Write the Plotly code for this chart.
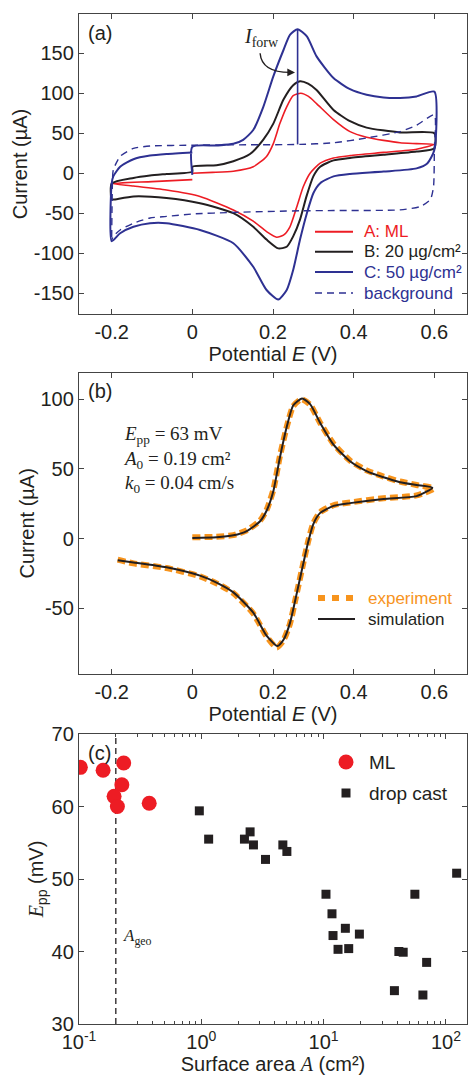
import plotly.graph_objects as go

# ---------------- Panel (a) data: cyclic voltammograms ----------------
a_red_x = [0.0, 0.05, 0.1017, 0.151, 0.184, 0.2008, 0.217, 0.234, 0.250, 0.269, 0.288, 0.308, 0.350, 0.391, 0.432, 0.474, 0.515, 0.556, 0.600,
           0.556, 0.474, 0.391, 0.350, 0.317, 0.292, 0.275, 0.259, 0.242, 0.226, 0.209, 0.184, 0.151, 0.1017, 0.019, -0.064, -0.146, -0.200,
           -0.100, 0.0]
a_red_y = [0.0, 1.0, 2.5, 8.0, 21.0, 37.0, 62.0, 83.0, 97.0, 100.0, 96.0, 87.0, 67.0, 52.0, 45.0, 41.0, 38.0, 37.0, 36.0,
           30.0, 26.0, 22.0, 19.0, 12.5, 0.0, -17.0, -42.0, -67.0, -77.5, -80.0, -73.0, -60.0, -46.0, -29.0, -21.0, -16.0, -13.0,
           -10.5, -8.0]

a_blk_x = [0.0, 0.0, 0.06, 0.1017, 0.143, 0.176, 0.2008, 0.226, 0.250, 0.267, 0.287, 0.308, 0.350, 0.391, 0.432, 0.515, 0.600,
           0.600, 0.556, 0.474, 0.391, 0.350, 0.317, 0.300, 0.283, 0.267, 0.250, 0.234, 0.213, 0.184, 0.151, 0.1017, 0.019, -0.064, -0.146, -0.196, -0.200,
           -0.200, -0.146, -0.105, -0.064, 0.0]
a_blk_y = [2.0, 8.0, 10.0, 15.0, 24.0, 42.0, 62.0, 92.0, 110.0, 115.0, 112.0, 104.0, 79.0, 65.0, 57.0, 51.0, 50.0,
           31.0, 27.0, 23.0, 19.0, 16.0, 8.0, -4.0, -29.0, -58.0, -79.0, -92.0, -94.0, -83.0, -67.0, -50.0, -37.5, -31.0, -29.0, -33.0, -33.0,
           -13.0, -6.0, -3.0, -1.0, 2.0]

a_blu_x = [0.0, 0.0, 0.06, 0.1017, 0.126, 0.151, 0.176, 0.2008, 0.226, 0.242, 0.261, 0.284, 0.308, 0.350, 0.391, 0.432, 0.474, 0.515, 0.556, 0.600,
           0.600, 0.583, 0.556, 0.474, 0.391, 0.350, 0.317, 0.300, 0.284, 0.267, 0.250, 0.234, 0.213, 0.184, 0.151, 0.1017, 0.019, -0.064, -0.105, -0.146, -0.179, -0.200,
           -0.200, -0.196, -0.179, -0.146, -0.105, -0.064, 0.0]
a_blu_y = [-2.0, 33.0, 34.6, 36.7, 41.7, 54.0, 83.0, 121.0, 154.0, 173.0, 180.0, 171.0, 146.0, 119.0, 105.0, 98.0, 94.6, 94.0, 96.0, 102.0,
           29.0, 12.5, 6.0, 2.0, -1.0, -4.0, -12.5, -25.0, -50.0, -83.0, -121.0, -146.0, -158.0, -146.0, -117.0, -87.5, -71.0, -62.5, -62.5, -67.0, -75.0, -85.0,
           -13.0, -4.0, 8.0, 17.5, 22.0, 24.0, 26.0]

a_bg_x = [-0.200, -0.198, -0.196, -0.179, -0.146, -0.105, 0.0, 0.10, 0.267, 0.350, 0.432, 0.515, 0.556, 0.600,
          0.600, 0.598, 0.590, 0.565, 0.515, 0.350, 0.267, 0.10, 0.0, -0.064, -0.105, -0.146, -0.179, -0.196, -0.200]
a_bg_y = [-80.0, -10.0, 4.0, 21.0, 31.0, 34.0, 35.0, 35.4, 36.0, 38.0, 44.0, 52.0, 60.0, 73.0,
          30.0, -17.0, -33.0, -41.7, -45.8, -46.7, -47.0, -49.0, -51.0, -54.0, -56.0, -62.5, -71.0, -79.0, -84.0]

iforw_x = [0.261, 0.261]
iforw_y = [36.0, 180.0]

# ---------------- Panel (b) data: experiment vs simulation ----------------
b_exp_x = [0.0, 0.06, 0.1017, 0.135, 0.168, 0.184, 0.2008, 0.217, 0.234, 0.250, 0.271, 0.292, 0.317, 0.350, 0.391, 0.432, 0.474, 0.515, 0.556, 0.598,
           0.556, 0.474, 0.391, 0.350, 0.317, 0.300, 0.288, 0.275, 0.259, 0.242, 0.226, 0.209, 0.184, 0.151, 0.1017, 0.06, 0.019, -0.064, -0.146, -0.188]
b_exp_y = [1.0, 1.4, 2.6, 6.0, 13.0, 20.6, 35.0, 59.0, 80.0, 95.0, 100.0, 96.0, 83.0, 68.0, 56.0, 49.0, 44.5, 41.0, 38.5, 36.0,
           31.0, 29.0, 26.0, 24.0, 19.0, 11.0, -1.0, -17.7, -39.0, -61.0, -72.7, -78.0, -70.0, -53.6, -39.0, -32.0, -27.0, -21.0, -17.7, -14.8]

b_sim_x = [0.0, 0.06, 0.1017, 0.135, 0.168, 0.184, 0.2008, 0.217, 0.234, 0.250, 0.272, 0.292, 0.317, 0.350, 0.391, 0.432, 0.474, 0.515, 0.556, 0.595,
           0.556, 0.474, 0.391, 0.350, 0.317, 0.300, 0.288, 0.275, 0.259, 0.242, 0.226, 0.211, 0.184, 0.151, 0.1017, 0.06, 0.019, -0.064, -0.146, -0.185]
b_sim_y = [0.5, 1.0, 2.4, 5.5, 12.5, 20.0, 34.0, 58.0, 80.0, 95.5, 100.5, 96.5, 83.0, 67.5, 55.5, 48.5, 44.0, 40.5, 38.5, 36.5,
           30.5, 28.5, 25.5, 23.5, 18.5, 10.5, -1.5, -18.0, -39.0, -60.5, -72.5, -77.0, -69.5, -53.0, -38.5, -31.5, -26.5, -20.5, -17.0, -15.5]

# ---------------- Panel (c) data: peak separation vs surface area ----------------
ml_area = [0.1026, 0.1574, 0.232, 0.224, 0.1936, 0.206, 0.375]
ml_epp = [65.4, 65.0, 66.0, 63.0, 61.4, 60.0, 60.45]

dc_area = [0.963, 1.148, 2.252, 2.505, 2.668, 3.347, 4.64, 5.006, 10.45, 11.70, 11.93, 13.11, 15.05, 16.03, 19.6,
           37.9, 41.2, 44.7, 55.7, 64.8, 69.5, 122.3]
dc_epp = [59.4, 55.5, 55.5, 56.5, 54.7, 52.7, 54.7, 53.8, 47.9, 45.2, 42.2, 40.3, 43.2, 40.4, 42.4,
          34.6, 40.0, 39.9, 47.9, 34.0, 38.5, 50.8]

ageo_x = [0.2, 0.2]
ageo_y = [30, 70]

# ---------------- tick labels ----------------
e_tickvals = [-0.2, 0, 0.2, 0.4, 0.6]
e_ticktext = ["-0.2", "0", "0.2", "0.4", "0.6"]
a_tickvals = [-150, -100, -50, 0, 50, 100, 150]
a_ticktext = ["-150", "-100", "-50", "0", "50", "100", "150"]
b_tickvals = [-50, 0, 50, 100]
b_ticktext = ["-50", "0", "50", "100"]
c_ytickvals = [30, 40, 50, 60, 70]
c_tickvals = [0.1, 1, 10, 100]
c_ticktext = ["10<sup>-1</sup>", "10<sup>0</sup>", "10<sup>1</sup>", "10<sup>2</sup>"]
c_minor = [m * 10.0 ** d for d in (-1, 0, 1) for m in range(2, 10)]

RED = "#ed1c24"
BLUE = "#2e3192"
BLACK = "#231f20"
ORANGE = "#f7941d"
FRAME = "#444444"
SANS = "Liberation Sans, Arial, sans-serif"
SERIF = "Liberation Serif, Times New Roman, serif"

# figure geometry helpers (pixels -> paper)
W, H = 468, 1078
ML_, MR_, MT_, MB_ = 79, 1, 14, 54
PW = W - ML_ - MR_
PH = H - MT_ - MB_


def px(xp):
    return (xp - ML_) / PW


def py(yp):
    return (H - MB_ - yp) / PH


fig = go.Figure()

# panel (a)
fig.add_trace(go.Scatter(x=a_red_x, y=a_red_y, mode="lines", line=dict(color=RED, width=1.6, shape="spline", smoothing=0.6),
                         name="A: ML", showlegend=False, xaxis="x", yaxis="y"))
fig.add_trace(go.Scatter(x=a_blk_x, y=a_blk_y, mode="lines", line=dict(color=BLACK, width=2, shape="spline", smoothing=0.6),
                         name="B: 20 µg/cm²", showlegend=False, xaxis="x", yaxis="y"))
fig.add_trace(go.Scatter(x=a_blu_x, y=a_blu_y, mode="lines", line=dict(color=BLUE, width=2, shape="spline", smoothing=0.6),
                         name="C: 50 µg/cm²", showlegend=False, xaxis="x", yaxis="y"))
fig.add_trace(go.Scatter(x=a_bg_x, y=a_bg_y, mode="lines", line=dict(color=BLUE, width=1.4, dash="7px,5px", shape="spline", smoothing=0.6),
                         name="background", showlegend=False, xaxis="x", yaxis="y"))
fig.add_trace(go.Scatter(x=iforw_x, y=iforw_y, mode="lines", line=dict(color=BLUE, width=1.6),
                         showlegend=False, xaxis="x", yaxis="y"))

# panel (b)
fig.add_trace(go.Scatter(x=b_exp_x, y=b_exp_y, mode="lines", line=dict(color=ORANGE, width=6, dash="8px,4px", shape="spline", smoothing=0.6),
                         name="experiment", showlegend=False, xaxis="x2", yaxis="y2"))
fig.add_trace(go.Scatter(x=b_sim_x, y=b_sim_y, mode="lines", line=dict(color=BLACK, width=2, shape="spline", smoothing=0.6),
                         name="simulation", showlegend=False, xaxis="x2", yaxis="y2"))

# panel (c)
fig.add_trace(go.Scatter(x=ageo_x, y=ageo_y, mode="lines", line=dict(color=BLACK, width=1.3, dash="6px,4px"),
                         showlegend=False, xaxis="x3", yaxis="y3"))
fig.add_trace(go.Scatter(x=ml_area, y=ml_epp, mode="markers", marker=dict(color=RED, size=15, symbol="circle"),
                         name="ML", showlegend=False, xaxis="x3", yaxis="y3"))
fig.add_trace(go.Scatter(x=dc_area, y=dc_epp, mode="markers", marker=dict(color=BLACK, size=9, symbol="square"),
                         name="drop cast", showlegend=False, xaxis="x3", yaxis="y3"))

axis_common = dict(showline=True, linecolor=FRAME, linewidth=1.3, mirror="ticks", ticks="inside", ticklen=5,
                   tickcolor=FRAME, tickwidth=1.2, showgrid=False, zeroline=False, automargin=False,
                   tickfont=dict(family=SANS, size=20, color=BLACK))

fig.update_layout(
    width=W, height=H,
    margin=dict(l=ML_, r=MR_, t=MT_, b=MB_),
    paper_bgcolor="white", plot_bgcolor="white",
    font=dict(family=SANS, size=20, color=BLACK),
    showlegend=False,
    xaxis=dict(domain=[0, 1], anchor="y", range=[-0.281, 0.681], tickvals=e_tickvals, ticktext=e_ticktext,
               title=dict(text="Potential <i>E</i> (V)", font=dict(size=20), standoff=2), **axis_common),
    yaxis=dict(domain=[py(314), 1], anchor="x", range=[-176, 199], tickvals=a_tickvals, ticktext=a_ticktext,
               title=dict(text="Current (µA)", font=dict(size=20), standoff=0), **axis_common),
    xaxis2=dict(domain=[0, 1], anchor="y2", range=[-0.281, 0.681], tickvals=e_tickvals, ticktext=e_ticktext,
                title=dict(text="Potential <i>E</i> (V)", font=dict(size=20), standoff=2), **axis_common),
    yaxis2=dict(domain=[py(674), py(372.7)], anchor="x2", range=[-97, 119], tickvals=b_tickvals, ticktext=b_ticktext,
                title=dict(text="Current (µA)", font=dict(size=20), standoff=0), **axis_common),
    xaxis3=dict(domain=[0, 1], anchor="y3", type="log", range=[-1, 2.172], tickvals=c_tickvals, ticktext=c_ticktext,
                minor=dict(tickvals=c_minor, ticks="inside", ticklen=3, tickcolor=FRAME, showgrid=False),
                title=dict(text='Surface area <span style="font-family:Liberation Serif"><i>A</i></span> (cm²)', font=dict(size=20), standoff=4),
                **axis_common),
    yaxis3=dict(domain=[0, py(734)], anchor="x3", range=[30, 70], tickvals=c_ytickvals,
                title=dict(text='<span style="font-family:Liberation Serif"><i>E</i></span><sub>pp</sub> (mV)', font=dict(size=20), standoff=2),
                **axis_common),
)

# ---------- manual legends (styling only) ----------
legend_a = [("A: ML", RED, "solid"), ("B: 20 µg/cm²", BLACK, "solid"), ("C: 50 µg/cm²", BLUE, "solid"), ("background", BLUE, "7px,5px")]
legend_a_rows = [231.7, 251.7, 272.0, 293.0]
for (lab, col, dsh), yy in zip(legend_a, legend_a_rows):
    fig.add_shape(type="line", xref="paper", yref="paper", x0=px(315), x1=px(353), y0=py(yy), y1=py(yy),
                  line=dict(color=col, width=2 if dsh == "solid" else 1.5, dash=dsh))
    fig.add_annotation(text=lab, xref="paper", yref="paper", x=px(362), y=py(yy), xanchor="left", yanchor="middle",
                       showarrow=False, font=dict(family=SANS, size=17, color=col))

legend_b = [("experiment", ORANGE, 6, "7px,7px"), ("simulation", BLACK, 2, "solid")]
legend_b_rows = [598.0, 619.0]
for (lab, col, wd, dsh), yy in zip(legend_b, legend_b_rows):
    fig.add_shape(type="line", xref="paper", yref="paper", x0=px(318), x1=px(355), y0=py(yy), y1=py(yy),
                  line=dict(color=col, width=wd, dash=dsh))
    fig.add_annotation(text=lab, xref="paper", yref="paper", x=px(366), y=py(yy), xanchor="left", yanchor="middle",
                       showarrow=False, font=dict(family=SANS, size=17, color=col))

# legend (c): circle + square symbols
fig.add_shape(type="circle", xref="paper", yref="paper", x0=px(346 - 7.5), x1=px(346 + 7.5), y0=py(762 + 7.5), y1=py(762 - 7.5),
              fillcolor=RED, line=dict(width=0))
fig.add_annotation(text="ML", xref="paper", yref="paper", x=px(367), y=py(762), xanchor="left", yanchor="middle",
                   showarrow=False, font=dict(family=SANS, size=19, color=BLACK))
fig.add_shape(type="rect", xref="paper", yref="paper", x0=px(346 - 4.5), x1=px(346 + 4.5), y0=py(793 + 4.5), y1=py(793 - 4.5),
              fillcolor=BLACK, line=dict(width=0))
fig.add_annotation(text="drop cast", xref="paper", yref="paper", x=px(367), y=py(793), xanchor="left", yanchor="middle",
                   showarrow=False, font=dict(family=SANS, size=19, color=BLACK))

# panel labels and text annotations
fig.add_annotation(text="(a)", xref="paper", yref="paper", x=px(86), y=py(33), xanchor="left", yanchor="middle",
                   showarrow=False, font=dict(family=SANS, size=20, color=BLACK))
fig.add_annotation(text="(b)", xref="paper", yref="paper", x=px(86), y=py(391), xanchor="left", yanchor="middle",
                   showarrow=False, font=dict(family=SANS, size=20, color=BLACK))
fig.add_annotation(text="(c)", xref="paper", yref="paper", x=px(86), y=py(753), xanchor="left", yanchor="middle",
                   showarrow=False, font=dict(family=SANS, size=20, color=BLACK))

fig.add_annotation(text="<i>I</i><sub>forw</sub>", xref="x", yref="y", x=0.122, y=170, xanchor="left", yanchor="middle",
                   showarrow=False, font=dict(family=SERIF, size=20, color=BLACK))
fig.add_shape(type="path", xref="x", yref="y", path="M 0.168,150 Q 0.172,126 0.242,126",
              line=dict(color=BLACK, width=1.4))
fig.add_annotation(x=0.2546, y=126, ax=0.235, ay=126, xref="x", yref="y", axref="x", ayref="y", text="",
                   showarrow=True, arrowhead=2, arrowsize=1.1, arrowwidth=1.4, arrowcolor=BLACK)

fig.add_annotation(text="<i>E</i><sub>pp</sub> = 63 mV<br><i>A</i><sub>0</sub> = 0.19 cm²<br><i>k</i><sub>0</sub> = 0.04 cm/s",
                   xref="paper", yref="paper", x=px(121), y=py(421), xanchor="left", yanchor="top", align="left",
                   showarrow=False, font=dict(family=SERIF, size=19, color=BLACK))

fig.add_annotation(text="<i>A</i><sub>geo</sub>", xref="x3", yref="y3", x=-0.66, y=42.0, xanchor="left", yanchor="middle",
                   showarrow=False, font=dict(family=SERIF, size=17, color=BLACK))

fig.write_html("out.html", config={"displayModeBar": False},
               post_script="document.body.style.margin='0';document.body.style.overflow='hidden';")
